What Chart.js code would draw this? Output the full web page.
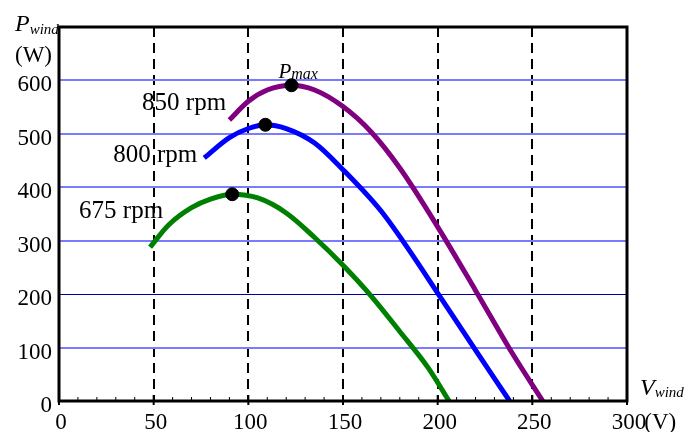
<!DOCTYPE html>
<html>
<head>
<meta charset="utf-8">
<title>P_wind vs V_wind</title>
<script src="https://cdn.jsdelivr.net/npm/chart.js@4.4.1/dist/chart.umd.min.js"></script>
<style>
  html, body { margin: 0; padding: 0; background: #fff; }
  #wrap { width: 688px; height: 432px; }
</style>
</head>
<body>
<div id="wrap"><canvas id="windChart" width="688" height="432"></canvas></div>
<script>
// === DATA ===
const xTicks = [0, 50, 100, 150, 200, 250, 300];
const yTicks = [0, 100, 200, 300, 400, 500, 600];

// 850 rpm
const v850 = [90, 100, 110, 122.8, 135, 150, 165, 180, 200, 220, 240, 255.5];
const p850 = [526, 561, 582, 591, 582, 551, 503, 436, 326, 207, 86, 0];

// 800 rpm
const v800 = [76.7, 90, 100, 109, 120, 135, 150, 170, 185, 200, 220, 238];
const p800 = [455, 493, 510, 517, 510, 483, 433, 356, 282, 202, 95, 0];

// 675 rpm
const v675 = [48.1, 58, 70, 80, 91.5, 105, 120, 135, 150, 165, 180, 195, 206];
const p675 = [288, 330, 362, 378, 387, 380, 352, 306, 254, 196, 130, 62, 0];

// maximum power points
const peakV = [91.5, 109, 122.8];
const peakP = [387, 517, 591];

const serif = '"Liberation Serif", "Times New Roman", serif';
const toPoints = (xs, ys) => xs.map((v, i) => ({ x: v, y: ys[i] }));

// === TEXT ON THE PLOT ===
const notes = [
  { text: "850 rpm", v: 43.9, p: 545 },
  { text: "800 rpm", v: 28.6, p: 447 },
  { text: "675 rpm", v: 10.6, p: 342 }
];

function subText(ctx, x, y, main, sub, bigSize, smallSize, drop) {
  ctx.font = `italic ${bigSize}px ${serif}`;
  ctx.fillText(main, x, y);
  const w = ctx.measureText(main).width;
  ctx.font = `italic ${smallSize}px ${serif}`;
  ctx.fillText(sub, x + w, y + drop);
}

const overlay = {
  id: "overlay",
  afterDraw(chart) {
    const { ctx, chartArea: a, scales: { x, y } } = chart;
    ctx.save();

    // minor + major ticks on the bottom axis
    ctx.strokeStyle = "#000";
    for (let v = x.min; v <= x.max; v += 10) {
      const px = x.getPixelForValue(v);
      ctx.beginPath();
      if (v % 50 === 0) {
        ctx.lineWidth = 2;
        ctx.moveTo(px, a.bottom - 6);
        ctx.lineTo(px, a.bottom + 4);
      } else {
        ctx.lineWidth = 1;
        ctx.moveTo(px, a.bottom);
        ctx.lineTo(px, a.bottom - 4);
      }
      ctx.stroke();
    }

    // frame
    ctx.lineWidth = 3;
    ctx.strokeRect(a.left, a.top, a.right - a.left, a.bottom - a.top);

    // curve labels
    ctx.fillStyle = "#000";
    ctx.textBaseline = "alphabetic";
    ctx.textAlign = "left";
    ctx.font = `25px ${serif}`;
    notes.forEach(n => ctx.fillText(n.text, x.getPixelForValue(n.v), y.getPixelForValue(n.p)));

    // P_max
    subText(ctx, x.getPixelForValue(115.9), y.getPixelForValue(604), "P", "max", 21, 16, 1);

    // axis titles
    subText(ctx, 15, 31, "P", "wind", 24, 15, 3);
    ctx.font = `23px ${serif}`;
    ctx.fillText("(W)", 15, 62);
    subText(ctx, 640, 395, "V", "wind", 24, 15, 2);

    // unit after the last x tick
    ctx.font = `23px ${serif}`;
    const last = x.getPixelForValue(300);
    ctx.textBaseline = "middle";
    ctx.fillText("(V)", last + ctx.measureText("300").width / 2, a.bottom + 8 + 23 * 0.6);

    ctx.restore();
  }
};

// === CHART ===
Chart.defaults.font.family = serif;
Chart.defaults.color = "#000";

const curve = (label, xs, ys, color) => ({
  label,
  data: toPoints(xs, ys),
  borderColor: color,
  borderWidth: 5,
  pointRadius: 0,
  cubicInterpolationMode: "monotone"
});

new Chart(document.getElementById("windChart"), {
  type: "line",
  data: {
    datasets: [
      {
        type: "scatter",
        label: "Pmax",
        data: toPoints(peakV, peakP),
        pointRadius: 6.5,
        pointBackgroundColor: "#000",
        pointBorderColor: "#000",
        showLine: false
      },
      curve("850 rpm", v850, p850, "#800080"),
      curve("800 rpm", v800, p800, "#0000ff"),
      curve("675 rpm", v675, p675, "#008000")
    ]
  },
  options: {
    responsive: false,
    animation: false,
    devicePixelRatio: 1,
    layout: { padding: { left: 0, top: 27, right: 61, bottom: 0 } },
    plugins: {
      legend: { display: false },
      tooltip: { enabled: false }
    },
    scales: {
      x: {
        type: "linear",
        min: 0,
        max: 300,
        afterBuildTicks: s => { s.ticks = xTicks.map(v => ({ value: v })); },
        afterFit: s => { s.height = 31; },
        ticks: { font: { size: 23 }, padding: 8, labelOffset: 2, maxRotation: 0, autoSkip: false },
        grid: {
          drawTicks: false,
          lineWidth: 2,
          color: c => (c.tick && (c.tick.value === 0 || c.tick.value === 300)) ? "rgba(0,0,0,0)" : "#000"
        },
        border: { display: false, dash: [10, 6] }
      },
      y: {
        min: 0,
        max: 700,
        afterBuildTicks: s => { s.ticks = yTicks.map(v => ({ value: v })); },
        afterFit: s => { s.width = 59; },
        ticks: { font: { size: 23 }, padding: 7, labelOffset: 5, autoSkip: false },
        grid: {
          drawTicks: false,
          lineWidth: c => (c.tick && c.tick.value === 200) ? 1 : 2,
          color: c => {
            if (!c.tick || c.tick.value === 0) return "rgba(0,0,0,0)";
            return c.tick.value === 200 ? "#0000a8" : "#7b7bff";
          }
        },
        border: { display: false }
      }
    }
  },
  plugins: [overlay]
});
</script>
</body>
</html>
